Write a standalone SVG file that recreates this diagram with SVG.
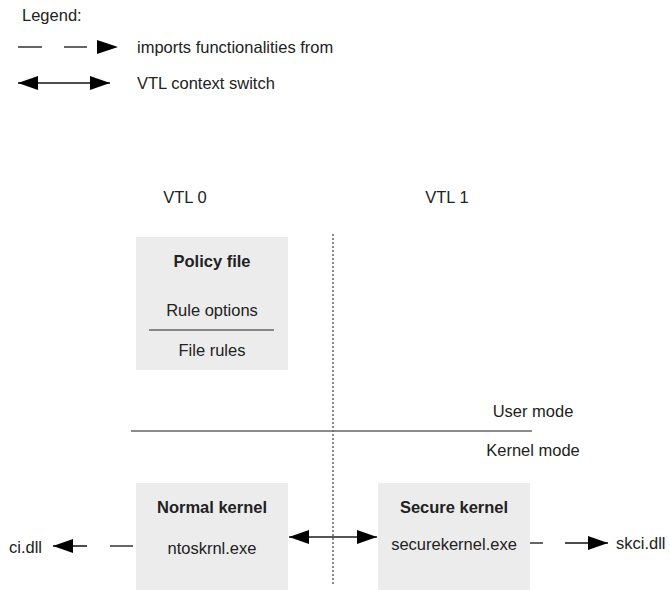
<svg xmlns="http://www.w3.org/2000/svg" width="670" height="590" viewBox="0 0 670 590">
<style>
text{font-family:"Liberation Sans",Arial,sans-serif;font-size:16.5px;fill:#222}
.b{font-weight:bold}
.m{text-anchor:middle}
.box{fill:#ececec}
.imp{stroke:#111;stroke-width:1.3;fill:none}
</style>
<defs>
<marker id="ahb" viewBox="0 0 20 14" refX="20" refY="7" markerWidth="20" markerHeight="14" markerUnits="userSpaceOnUse" orient="auto-start-reverse">
<path d="M0,0 L20,7 L0,14 z" fill="#000"/>
</marker>
</defs>
<g id="legend">
<text x="22" y="21">Legend:</text>
<line x1="18" y1="47" x2="42" y2="47" class="imp"/>
<line x1="64" y1="47" x2="87" y2="47" class="imp"/>
<path d="M97,40 L118,47 L97,54 z" fill="#000"/>
<text x="137" y="53">imports functionalities from</text>
<line x1="18" y1="83" x2="110" y2="83" class="imp" marker-start="url(#ahb)" marker-end="url(#ahb)"/>
<text x="137" y="89">VTL context switch</text>
</g>
<g id="labels">
<text x="185" y="203" class="m">VTL 0</text>
<text x="447" y="203" class="m">VTL 1</text>
<text x="533" y="417" class="m">User mode</text>
<text x="533" y="456" class="m">Kernel mode</text>
</g>
<g id="dividers">
<line x1="333" y1="234" x2="333" y2="584" stroke="#666" stroke-width="1.5" stroke-dasharray="2,2"/>
<line x1="131" y1="431" x2="532" y2="431" stroke="#666" stroke-width="1.5"/>
</g>
<g id="policy-file">
<rect x="136" y="237" width="152" height="133" class="box"/>
<text x="212" y="267" class="m b">Policy file</text>
<text x="212" y="316" class="m">Rule options</text>
<line x1="149" y1="330" x2="274" y2="330" stroke="#666" stroke-width="1.5"/>
<text x="212" y="356" class="m">File rules</text>
</g>
<g id="normal-kernel">
<rect x="136" y="483" width="152" height="107" class="box"/>
<text x="212" y="513" class="m b">Normal kernel</text>
<text x="212" y="554" class="m">ntoskrnl.exe</text>
</g>
<g id="secure-kernel">
<rect x="378" y="483" width="152" height="107" class="box"/>
<text x="454" y="513" class="m b">Secure kernel</text>
<text x="454" y="550" class="m">securekernel.exe</text>
</g>
<g id="ci-dll"><text x="9" y="553">ci.dll</text></g>
<g id="skci-dll"><text x="616" y="549">skci.dll</text></g>
<g id="connectors">
<line x1="110" y1="546" x2="133" y2="546" class="imp"/>
<line x1="87" y1="546" x2="53" y2="546" class="imp" marker-end="url(#ahb)"/>
<line x1="530" y1="543" x2="543" y2="543" class="imp"/>
<line x1="565" y1="543" x2="608" y2="543" class="imp" marker-end="url(#ahb)"/>
<line x1="289" y1="537" x2="377" y2="537" stroke="#555" stroke-width="2" marker-start="url(#ahb)" marker-end="url(#ahb)"/>
</g>
</svg>
